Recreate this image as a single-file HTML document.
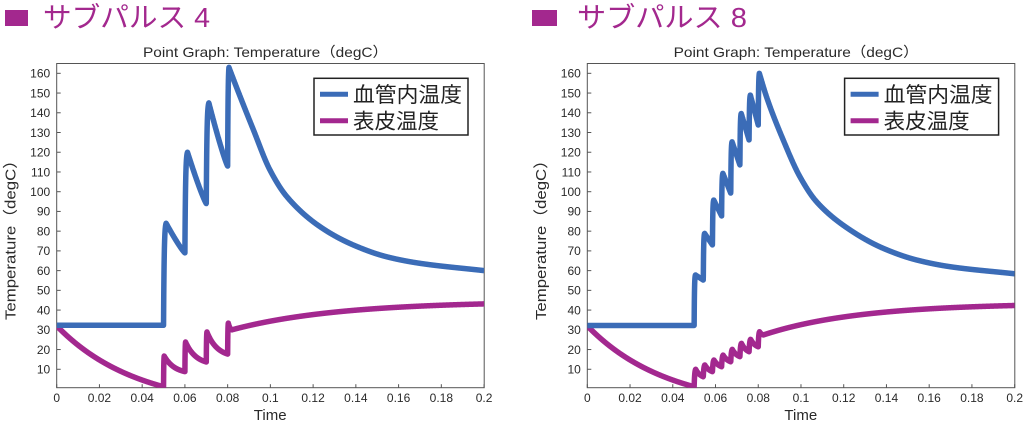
<!DOCTYPE html>
<html><head><meta charset="utf-8">
<style>
html,body{margin:0;padding:0;background:#fff;}
svg{display:block;}
text{font-family:"Liberation Sans","Noto Sans CJK JP",sans-serif;}
</style></head>
<body>
<svg id="s" width="1024" height="427" viewBox="0 0 1024 427" xmlns="http://www.w3.org/2000/svg">
<rect x="0" y="0" width="1024" height="427" fill="#fff"/>
<defs>
<clipPath id="cL"><rect x="56.7" y="63.5" width="427.6" height="324.2"/></clipPath>
<clipPath id="cR"><rect x="587.3" y="63.5" width="427.4" height="324.2"/></clipPath>
</defs>

<rect x="5" y="10" width="23" height="16" fill="#a3288e"/>
<text x="43" y="27" font-size="28" fill="#a3288e" textLength="167" lengthAdjust="spacingAndGlyphs">サブパルス 4</text>
<rect x="532" y="10" width="25" height="16" fill="#a3288e"/>
<text x="577" y="27" font-size="28" fill="#a3288e" textLength="170" lengthAdjust="spacingAndGlyphs">サブパルス 8</text>

<g id="axes"></g>
<g id="data"></g>
<g id="leg"></g>
</svg>
<script>
(function(){
var NS="http://www.w3.org/2000/svg";
var axes=document.getElementById('axes'), data=document.getElementById('data'), leg=document.getElementById('leg');
var Y0=389, SY=1.973, SX=2136.8;
var BLUE="#3b6cb7", PURP="#a3288f";
function el(tag,attrs,parent,txt){var e=document.createElementNS(NS,tag);for(var k in attrs)e.setAttribute(k,attrs[k]);if(txt!==undefined)e.textContent=txt;parent.appendChild(e);return e;}

function drawAxes(x0,off){
  var x1=x0+427.5, yT=63.5, yB=387.7;
  el('rect',{x:x0,y:yT,width:x1-x0,height:yB-yT,fill:'none',stroke:'#555','stroke-width':1},axes);
  for(var v=10;v<=160;v+=10){
    var y=Y0-v*SY;
    el('line',{x1:x0,y1:y,x2:x0+4,y2:y,stroke:'#555','stroke-width':1},axes);
    el('text',{x:x0-6.5,y:y+4.3,'font-size':12,fill:'#2a2a2a','text-anchor':'end'},axes,String(v));
  }
  var labs=['0','0.02','0.04','0.06','0.08','0.1','0.12','0.14','0.16','0.18','0.2'];
  for(var i=0;i<=10;i++){
    var x=x0+i*0.02*SX;
    el('line',{x1:x,y1:yB,x2:x,y2:yB-3.5,stroke:'#555','stroke-width':1},axes);
    el('text',{x:x,y:402,'font-size':12,fill:'#2a2a2a','text-anchor':'middle'},axes,labs[i]);
  }
  el('text',{x:x0+213.5,y:420,'font-size':15,fill:'#2a2a2a','text-anchor':'middle'},axes,'Time');
  el('text',{x:143+off,y:57,'font-size':14,fill:'#2a2a2a',textLength:245,lengthAdjust:'spacingAndGlyphs'},axes,'Point Graph: Temperature（degC）');
  var cx=15.5+off, cy=236;
  el('text',{x:cx,y:cy,'font-size':15,fill:'#2a2a2a','text-anchor':'middle',transform:'rotate(-90 '+cx+' '+cy+')',textLength:168,lengthAdjust:'spacingAndGlyphs'},axes,'Temperature（degC）');
  el('rect',{x:314+off,y:78.3,width:154,height:56.7,fill:'#fff',stroke:'#222','stroke-width':1.5},leg);
  el('line',{x1:320+off,y1:94.3,x2:348+off,y2:94.3,stroke:BLUE,'stroke-width':5},leg);
  el('line',{x1:320+off,y1:120.7,x2:348+off,y2:120.7,stroke:PURP,'stroke-width':5},leg);
  el('text',{x:353+off,y:102,'font-size':21,fill:'#222',textLength:109,lengthAdjust:'spacingAndGlyphs'},leg,'血管内温度');
  el('text',{x:353+off,y:128.5,'font-size':21,fill:'#222',textLength:86,lengthAdjust:'spacingAndGlyphs'},leg,'表皮温度');
}

function mono(xs,ys){
  var n=xs.length,d=[],m=[];
  for(var i=0;i<n-1;i++)d[i]=(ys[i+1]-ys[i])/(xs[i+1]-xs[i]);
  m[0]=d[0];m[n-1]=d[n-2];
  for(i=1;i<n-1;i++){
    if(d[i-1]*d[i]<=0)m[i]=0;else{var h0=xs[i]-xs[i-1],h1=xs[i+1]-xs[i];var w1=2*h1+h0,w2=h1+2*h0;m[i]=(w1+w2)/(w1/d[i-1]+w2/d[i]);}
  }
  return function(x){
    var i=0;while(i<n-2&&x>xs[i+1])i++;
    var h=xs[i+1]-xs[i],s=(x-xs[i])/h;if(s>1)s=1;var s2=s*s,s3=s2*s;
    return (2*s3-3*s2+1)*ys[i]+(s3-2*s2+s)*h*m[i]+(-2*s3+3*s2)*ys[i+1]+(s3-s2)*h*m[i+1];
  };
}
function R(u,ur,tau){return (1-Math.exp(-u/tau))/(1-Math.exp(-ur/tau));}
function gExp(s,a){return (Math.exp(-a*s)-Math.exp(-a))/(1-Math.exp(-a));}
function pulse(u,P,b,p,e,ur,tau,shape,q){
  if(u<ur)return b+(p-b)*R(u,ur,tau);
  var s=(u-ur)/(P-ur);if(s>1)s=1;
  var g=shape==='pow'?Math.pow(1-s,q):gExp(s,q);
  return e+(p-e)*g;
}
function train(t,t0,P,base0,peaks,ends,ur,tau,shape,q){
  var k=Math.floor((t-t0)/P+1e-9);if(k>peaks.length-1)k=peaks.length-1;
  var u=t-t0-k*P;var b=k?ends[k-1]:base0;
  return pulse(u,P,b,peaks[k],ends[k],ur,tau,shape,q);
}

var decL=mono([0.0806,0.0843,0.092,0.0998,0.1077,0.1232,0.1388,0.1545,0.170,0.2],
              [163,152.5,131.5,111,97.5,82.3,73,67,63.7,60]);
function blueL(t){
  if(t<0.05)return 32.3;
  if(t<0.08)return train(t,0.05,0.01,32.3,[84,120,145],[69,94,113],0.0012,0.0003,'pow',1.15);
  var u=t-0.08;if(u<0.0006)return 113+(163-113)*R(u,0.0006,0.0002);
  return decL(t);
}
function purpL(t){
  if(t<0.05)return -10+42*Math.exp(-t/0.0377);
  if(t<0.08)return train(t,0.05,0.01,1.15,[16.7,23.8,28.9],[8.8,13.7,17.7],0.0003,0.0001,'exp',2);
  if(t<0.082)return pulse(t-0.08,0.002,17.7,33.4,30,0.0003,0.0001,'exp',2);
  return 44.5-14.5*Math.exp(-(t-0.082)/0.05);
}
var P8=0.03/7;
var decR=mono([0.0805,0.0839,0.0917,0.0995,0.1073,0.123,0.1385,0.1541,0.1697,0.2],
              [160,148,126.2,107.6,94.9,80.6,71.3,65.4,62,58.4]);
function blueR(t){
  if(t<0.05)return 32.2;
  if(t<0.08-1e-9)return train(t,0.05,P8,32.2,[57.8,78.9,95.8,109.3,125.3,139.7,149],[55.2,73,87.7,99.2,113.5,126.2,133.8],0.0006,0.00015,'pow',1);
  var u=t-0.08;if(u<0.0005)return 133.8+(160-133.8)*R(u,0.0005,0.00015);
  return decR(t);
}
function purpR(t){
  if(t<0.05)return -10+42*Math.exp(-t/0.0377);
  if(t<0.08-1e-9)return train(t,0.05,P8,1.15,[10,12.2,14.7,17.2,20.1,23.2,25.2],[6.2,8.8,11.3,13.8,16.4,18.9,21.4],0.0007,0.00025,'exp',1.5);
  if(t<0.0824)return pulse(t-0.08,0.0024,21.4,29,27.4,0.0006,0.0002,'exp',1.5);
  return 43.5-16.1*Math.exp(-(t-0.0824)/0.045);
}

function path(x0,f){
  var d='',N=4000;
  for(var i=0;i<=N;i++){var t=i*0.2/N;var v=f(t);d+=(i?'L':'M')+(x0+t*SX).toFixed(2)+','+(Y0-v*SY).toFixed(2);}
  return d;
}
drawAxes(56.7,0);
drawAxes(587.3,530.6);
var gL=el('g',{'clip-path':'url(#cL)'},data), gR=el('g',{'clip-path':'url(#cR)'},data);
el('path',{d:path(56.7,purpL),fill:'none',stroke:PURP,'stroke-width':5.5,'stroke-linejoin':'round'},gL);
el('path',{d:path(56.7,blueL),fill:'none',stroke:BLUE,'stroke-width':5.5,'stroke-linejoin':'round'},gL);
el('path',{d:path(587.3,purpR),fill:'none',stroke:PURP,'stroke-width':5.5,'stroke-linejoin':'round'},gR);
el('path',{d:path(587.3,blueR),fill:'none',stroke:BLUE,'stroke-width':5.5,'stroke-linejoin':'round'},gR);
})();
</script>
</body></html>
